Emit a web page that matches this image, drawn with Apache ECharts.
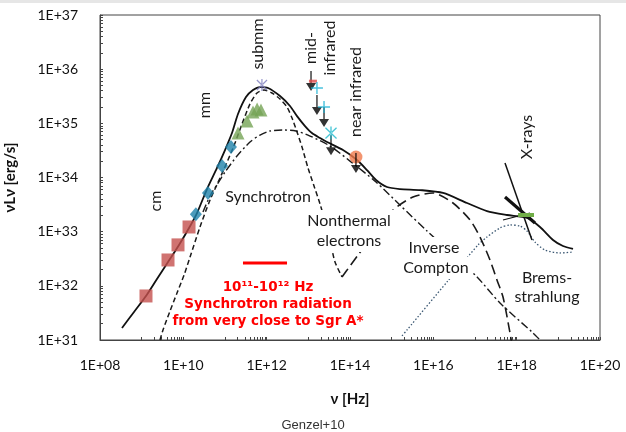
<!DOCTYPE html>
<html><head><meta charset="utf-8">
<script src="https://cdn.jsdelivr.net/npm/echarts@6/dist/echarts.min.js"></script>
<style>html,body{margin:0;padding:0;background:#fff}#c{width:626px;height:432px}</style>
</head><body><div id="c"></div>
<script>
// ---- axis ticks ----
const xTicks = [1e8, 1e10, 1e12, 1e14, 1e16, 1e18, 1e20];
const xTickLabels = ['1E+08', '1E+10', '1E+12', '1E+14', '1E+16', '1E+18', '1E+20'];
const yTicks = [1e31, 1e32, 1e33, 1e34, 1e35, 1e36, 1e37];
const yTickLabels = ['1E+31', '1E+32', '1E+33', '1E+34', '1E+35', '1E+36', '1E+37'];

// ---- model curves [nu (Hz), nuL_nu (erg/s)] ----
const totalSED = [
  [3.37e8,1.67e31],[6.55e8,3.29e31],[1.27e9,6.49e31],[2.33e9,1.34e32],[4.29e9,2.75e32],
  [7.87e9,5.68e32],[1.37e10,1.17e33],[2.13e10,2.21e33],[3.70e10,6.12e33],[6.43e10,1.50e34],
  [1.0e11,3.21e34],[1.47e11,6.62e34],[2.05e11,1.49e35],[3.19e11,3.06e35],[4.70e11,4.12e35],
  [6.92e11,4.68e35],[1.08e12,4.49e35],[2.09e12,3.19e35],[3.63e12,2.09e35],[5.35e12,1.36e35],
  [8.32e12,8.91e34],[1.22e13,6.62e34],[1.91e13,5.36e34],[2.81e13,4.52e34],[6.79e13,3.21e34],
  [1.47e14,2.10e34],[2.56e14,1.37e34],[4.21e14,8.99e33],[7.73e14,6.67e33],[1.58e15,6.12e33],
  [4.79e15,5.87e33],[1.71e16,5.18e33],[6.43e16,3.38e33],[1.94e17,2.40e33],[5.86e17,2.03e33],
  [1.77e18,1.79e33],[3.63e18,1.22e33],[7.45e18,7.02e32],[1.29e19,5.43e32],[2.25e19,4.79e32]
];
const thermalSynchrotron = [
  [2.75e9,1.0e31],[3.25e9,1.53e31],[4.79e9,3.43e31],[7.05e9,7.38e31],[1.04e10,1.58e32],
  [1.45e10,3.40e32],[2.51e10,1.22e33],[4.37e10,3.84e33],[7.59e10,9.79e33],[1.56e11,3.50e34],
  [2.56e11,9.70e34],[3.98e11,2.28e35],[5.86e11,3.63e35],[8.63e11,4.12e35],[1.34e12,3.63e35],
  [2.09e12,2.81e35],[3.08e12,2.0e35],[4.06e12,1.25e35],[5.35e12,6.92e34],[7.05e12,3.66e34],
  [9.82e12,1.50e34],[1.37e13,6.97e33],[1.91e13,3.24e33],[2.65e13,1.33e33],[3.50e13,5.68e32],
  [4.37e13,2.75e32],[6.43e13,1.46e32]
];
const thermalCompton = [
  [6.43e13,1.46e32],[1.0e14,2.32e32],[1.56e14,3.71e32],[3.98e14,9.86e32],[1.08e15,2.51e33],
  [3.25e15,4.37e33],[9.82e15,5.18e33],[2.96e16,3.38e33],[7.59e16,1.64e33],[1.32e17,7.96e32],
  [2.29e17,3.0e32],[3.37e17,1.28e32],[4.70e17,6.22e31],[6.92e17,1.35e31],[7.73e17,8.1e30]
];
const nonthermalSynchrotron = [
  [2.96e10,2.31e33],[4.37e10,4.55e33],[6.79e10,7.91e33],[1.0e11,1.26e34],[1.94e11,2.49e34],
  [3.98e11,4.52e34],[6.92e11,6.08e34],[1.20e12,7.21e34],[2.47e12,7.53e34],[5.06e12,7.21e34],
  [1.10e13,5.83e34],[3.31e13,3.81e34],[1.0e14,2.01e34],[4.21e14,8.26e33],[1.58e15,3.10e33],
  [7.05e15,1.03e33],[2.81e16,3.87e32],[1.12e17,1.46e32],[3.98e17,4.82e31],[2.47e18,1.35e31],
  [3.84e18,9.6e30]
];
const bremsstrahlung = [
  [1.77e15,1.19e31],[2.33e15,1.53e31],[2.13e16,1.18e32],[1.18e17,5.68e32],[1.94e17,7.96e32],
  [3.98e17,1.17e33],[6.92e17,1.33e33],[1.20e18,1.27e33],[1.77e18,1.03e33],[2.75e18,6.44e32],
  [4.79e18,4.58e32],[1.10e19,4.04e32],[2.25e19,4.21e32]
];

// ---- observations ----
const cmData = [[1.27e9,6.5e31],[4.29e9,3.0e32],[7.45e9,5.7e32],[1.37e10,1.22e33]];
const mmData = [[2.0e10,2.1e33],[3.9e10,5.2e33],[8.5e10,1.63e34],[1.39e11,3.66e34]];
const submmData = [[2.05e11,6.6e34],[3.37e11,1.1e35],[4.7e11,1.62e35],[5.9e11,1.84e35],[7.3e11,1.76e35]];
const submmStar = [[7.7e11,5.1e35]];
const midIRBar = [[1.29e13,6.0e35]];
const midIRPlus = [[1.61e13,4.5e35],[2.38e13,2.0e35]];
const midIRStar = [[3.5e13,6.6e34]];
const nearIRDot = [[1.39e14,2.39e34]];
const upperLimits = [[1.16e13,4.9e35],[1.61e13,1.76e35],[2.38e13,1.06e35],[3.5e13,3.2e34],[1.39e14,1.5e34]];
const xraySteep = [[5.25e17,1.85e34],[2.33e18,7.02e32]];
const xrayShallow = [[5.25e17,4.37e33],[2.75e18,1.45e33]];
const xrayThin = [[4.70e17,1.64e33],[2.09e18,2.21e33]];
const xrayFlux = [[1.08e18,2.03e33],[2.61e18,2.03e33]];
const sgrABand = [[2.70e11,2.64e32],[3.08e12,2.64e32]];

// minor ticks (Excel style)
const xMinor = [];
[9, 11, 13, 15, 17, 19].forEach(e => { for (let k = 1; k <= 9; k++) xMinor.push(k * Math.pow(10, e)); });
const yMinor = [];
[31, 32, 33, 34, 35, 36].forEach(e => { for (let k = 2; k <= 9; k++) yMinor.push(k * Math.pow(10, e)); });

function fmt(ticks, labels) {
  return v => {
    const e = Math.round(Math.log10(v));
    const i = ticks.findIndex(t => Math.round(Math.log10(t)) === e);
    return i >= 0 ? labels[i] : '';
  };
}

const starPath = 'path://M-0.6,-6L0.6,-6L0.6,6L-0.6,6Z M-4.58,-5.42L5.42,4.58L4.58,5.42L-5.42,-4.58Z M-4.58,5.42L5.42,-4.58L4.58,-5.42L-5.42,4.58Z';
const plusPath = 'path://M-0.7,-6L0.7,-6L0.7,-0.7L6,-0.7L6,0.7L0.7,0.7L0.7,6L-0.7,6L-0.7,0.7L-6,0.7L-6,-0.7L-0.7,-0.7Z';
const arrowPath = 'path://M-0.7,-14L0.7,-14L0.7,-2L5,-2L0,6L-5,-2L-0.7,-2Z';

const FONT = 'Lato';
const chart = echarts.init(document.getElementById('c'), null, {renderer: 'canvas'});

function lineSeries(data, style, z) {
  return {type: 'line', data, symbol: 'none', smooth: 0.25, z: z || 2, silent: true,
    lineStyle: style, clip: true};
}

function txt(x, y, text, opts) {
  return {
    type: 'text', x, y, z: 100,
    style: Object.assign({text, fontFamily: FONT, fontSize: 16, fill: '#1a1a1a',
      textAlign: 'center', textVerticalAlign: 'middle'}, opts || {})
  };
}
function rtxt(x, y, text, opts) {
  const t = txt(x, y, text, opts);
  t.rotation = Math.PI / 2;
  return t;
}
const boxed = {backgroundColor: '#fff', padding: [3, 4]};
const redStyle = {fontFamily: 'DejaVu Sans', fontWeight: 'bold', fontSize: 13.5, fill: '#ff0000'};

chart.setOption({
  animation: false,
  grid: {left: 100, right: 26, top: 15, bottom: 92, show: true, borderColor: '#444', borderWidth: 1,
    outerBoundsMode: 'none', containLabel: false},
  xAxis: {
    type: 'log', logBase: 10, min: 1e8, max: 1e20,
    axisLine: {show: true, lineStyle: {color: '#444', width: 1}},
    axisTick: {show: true, inside: true, length: 3, customValues: xMinor.concat(xTicks), lineStyle: {color: '#444'}},
    axisLabel: {customValues: xTicks, formatter: fmt(xTicks, xTickLabels), margin: 18, color: '#111',
      fontFamily: FONT, fontSize: 14, showMinLabel: true, showMaxLabel: true},
    splitLine: {show: false},
    name: 'ν [Hz]', nameLocation: 'middle', nameGap: 52,
    nameTextStyle: {fontFamily: FONT, fontWeight: 'bold', fontSize: 15, color: '#111'}
  },
  yAxis: {
    type: 'log', logBase: 10, min: 1e31, max: 1e37,
    axisLine: {show: true, lineStyle: {color: '#444', width: 1}},
    axisTick: {show: true, inside: true, length: 3, customValues: yMinor.concat(yTicks), lineStyle: {color: '#444'}},
    axisLabel: {customValues: yTicks, formatter: fmt(yTicks, yTickLabels), margin: 22, color: '#111',
      fontFamily: FONT, fontSize: 14, showMinLabel: true, showMaxLabel: true},
    splitLine: {show: false},
    name: 'νLν [erg/s]', nameLocation: 'middle', nameGap: 82,
    nameTextStyle: {fontFamily: FONT, fontWeight: 'bold', fontSize: 15, color: '#111'}
  },
  series: [
    lineSeries(bremsstrahlung, {color: '#3b5873', width: 1.3, type: [1.5, 2]}),
    lineSeries(nonthermalSynchrotron, {color: '#1a1a1a', width: 1.4, type: [8, 3, 2, 3]}),
    lineSeries(thermalSynchrotron, {color: '#1a1a1a', width: 1.5, type: [5, 3]}),
    lineSeries(thermalCompton, {color: '#1a1a1a', width: 1.6, type: [10, 5]}),
    lineSeries(totalSED, {color: '#111', width: 1.8, type: 'solid'}, 3),
    {type: 'line', data: xraySteep, symbol: 'none', silent: true, z: 4, lineStyle: {color: '#111', width: 1.5}},
    {type: 'line', data: xrayShallow, symbol: 'none', silent: true, z: 4, lineStyle: {color: '#111', width: 3.2}},
    {type: 'line', data: xrayThin, symbol: 'none', silent: true, z: 4, lineStyle: {color: '#111', width: 1.2}},
    {type: 'line', data: xrayFlux, symbol: 'none', silent: true, z: 5, lineStyle: {color: '#70ad47', width: 4}},
    {type: 'line', data: sgrABand, symbol: 'none', silent: true, z: 5, lineStyle: {color: '#ff0000', width: 3}},
    {type: 'scatter', data: cmData, symbol: 'rect', symbolSize: 13, z: 6, itemStyle: {color: '#c4504e'}},
    {type: 'scatter', data: mmData, symbol: 'diamond', symbolSize: [12, 14], z: 6, itemStyle: {color: '#1f82aa'}},
    {type: 'scatter', data: submmData, symbol: 'triangle', symbolSize: 13, z: 6, itemStyle: {color: '#76a456'}},
    {type: 'scatter', data: submmStar, symbol: starPath, symbolSize: [11, 12], z: 6, itemStyle: {color: '#7b7bbd'}},
    {type: 'scatter', data: upperLimits, symbol: arrowPath, symbolSize: [10, 20], symbolOffset: [0, -5], z: 6, itemStyle: {color: '#000'}},
    {type: 'scatter', data: midIRBar, symbol: 'rect', symbolSize: [8, 3], z: 7, itemStyle: {color: '#e04848'}},
    {type: 'scatter', data: midIRPlus, symbol: plusPath, symbolSize: 12, z: 7, itemStyle: {color: '#1cb3d4'}},
    {type: 'scatter', data: midIRStar, symbol: starPath, symbolSize: [12, 13], z: 7, itemStyle: {color: '#1cb8cc'}},
    {type: 'scatter', data: nearIRDot, symbol: 'circle', symbolSize: 13, z: 5, itemStyle: {color: '#f07a4c'}}
  ],
  graphic: [
    {type: 'rect', shape: {x: 0, y: 0, width: 626, height: 3}, style: {fill: '#e6e6e6'}, z: 100},
    rtxt(156, 201, 'cm'),
    rtxt(205, 105, 'mm'),
    rtxt(258, 44, 'submm'),
    rtxt(320, 48, 'mid-\ninfrared', {lineHeight: 19}),
    rtxt(356, 92, 'near infrared'),
    rtxt(527, 137, 'X-rays'),
    txt(268, 197, 'Synchrotron'),
    txt(349, 221, 'Nonthermal', boxed),
    txt(349, 241, 'electrons', boxed),
    txt(434, 248, 'Inverse', boxed),
    txt(436, 268, 'Compton', boxed),
    txt(547, 278, 'Brems-'),
    txt(547, 297, 'strahlung'),
    txt(268, 287, '10¹¹-10¹² Hz', redStyle),
    txt(268, 304, 'Synchrotron radiation', redStyle),
    txt(268, 321, 'from very close to Sgr A*', redStyle),
    txt(313, 425, 'Genzel+10', {fontFamily: 'Liberation Sans', fontSize: 13, fill: '#333'})
  ]
});
</script></body></html>
